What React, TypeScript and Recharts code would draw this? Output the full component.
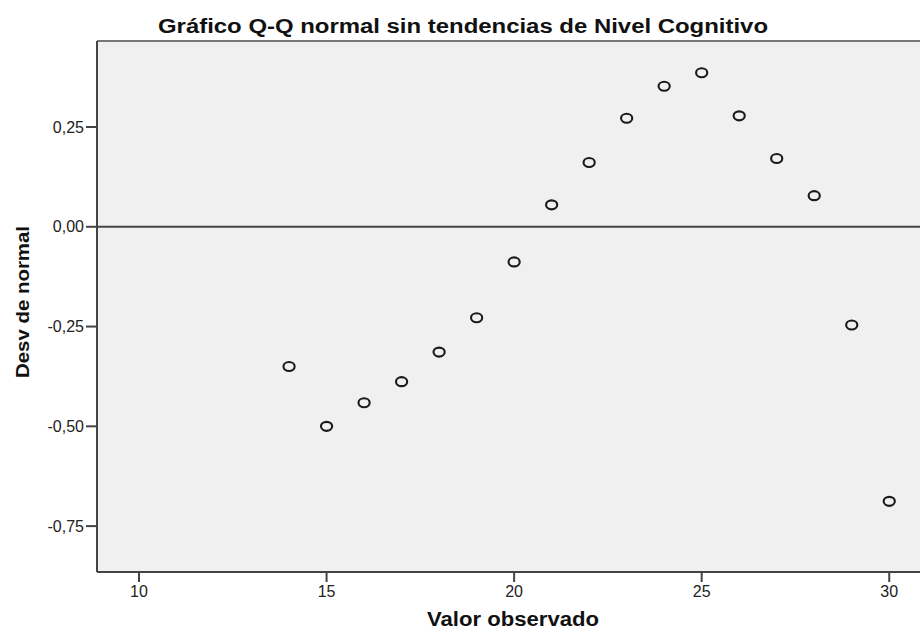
import {
  ScatterChart,
  Scatter,
  XAxis,
  YAxis,
  CartesianGrid,
  ReferenceLine,
} from 'recharts';

const observed = [14, 15, 16, 17, 18, 19, 20, 21, 22, 23, 24, 25, 26, 27, 28, 29, 30];
const deviation = [
  -0.35, -0.5, -0.441, -0.388, -0.314, -0.228, -0.088, 0.055, 0.161, 0.272, 0.352, 0.386,
  0.278, 0.171, 0.078, -0.246, -0.688,
];
const xTicks = [10, 15, 20, 25, 30];
const yTicks = [0.25, 0, -0.25, -0.5, -0.75];

const points = observed.map((x, i) => ({ x, y: deviation[i] }));

const X_DOMAIN: [number, number] = [8.88, 30.82];
const Y_DOMAIN: [number, number] = [-0.865, 0.4655];

const FONT = 'Liberation Sans, Arial, sans-serif';
const fmt = (v: number) => v.toFixed(2).replace('.', ',');

// SPSS output is stretched sideways a bit, so the rings come out slightly oval
const Ring = (props: any) => (
  <ellipse cx={props.cx} cy={props.cy} rx={5.6} ry={4.5} fill="none" stroke="#1a1a1a" strokeWidth={2.1} />
);

export default function App() {
  return (
    <div style={{ position: 'absolute', left: 0, top: 0, width: 920, height: 630, background: '#fff' }}>
      <ScatterChart width={920} height={630} margin={{ top: 41, right: 0, bottom: 0, left: 0 }}>
        <CartesianGrid fill="#f0f0f0" horizontal={false} vertical={false} />
        <XAxis
          type="number"
          dataKey="x"
          domain={X_DOMAIN}
          ticks={xTicks}
          allowDataOverflow
          height={58}
          stroke="#444"
          strokeWidth={2}
          tickSize={10}
          tickMargin={4}
          tick={{ fill: '#222', fontSize: 16, fontFamily: FONT }}
        />
        <YAxis
          type="number"
          dataKey="y"
          domain={Y_DOMAIN}
          ticks={yTicks}
          allowDataOverflow
          width={97}
          stroke="#444"
          strokeWidth={2}
          tickSize={11}
          tickMargin={2}
          tickFormatter={fmt}
          tick={{ fill: '#222', fontSize: 16, fontFamily: FONT }}
        />
        <ReferenceLine y={Y_DOMAIN[1]} stroke="#777" strokeWidth={2} />
        <ReferenceLine y={0} stroke="#444" strokeWidth={2} />
        <Scatter data={points} shape={Ring} isAnimationActive={false} />
      </ScatterChart>
      <svg
        width={920}
        height={630}
        style={{ position: 'absolute', left: 0, top: 0, pointerEvents: 'none' }}
        fontFamily={FONT}
        fontWeight="bold"
        fill="#111"
      >
        <text x={463} y={33} fontSize={20} textAnchor="middle" textLength={610} lengthAdjust="spacingAndGlyphs">
          Gráfico Q-Q normal sin tendencias de Nivel Cognitivo
        </text>
        <text x={513} y={626} fontSize={20} textAnchor="middle" textLength={172} lengthAdjust="spacingAndGlyphs">
          Valor observado
        </text>
        <text
          x={0}
          y={0}
          fontSize={19}
          textAnchor="middle"
          textLength={152}
          lengthAdjust="spacingAndGlyphs"
          transform="translate(29,302) rotate(-90)"
        >
          Desv de normal
        </text>
      </svg>
    </div>
  );
}
